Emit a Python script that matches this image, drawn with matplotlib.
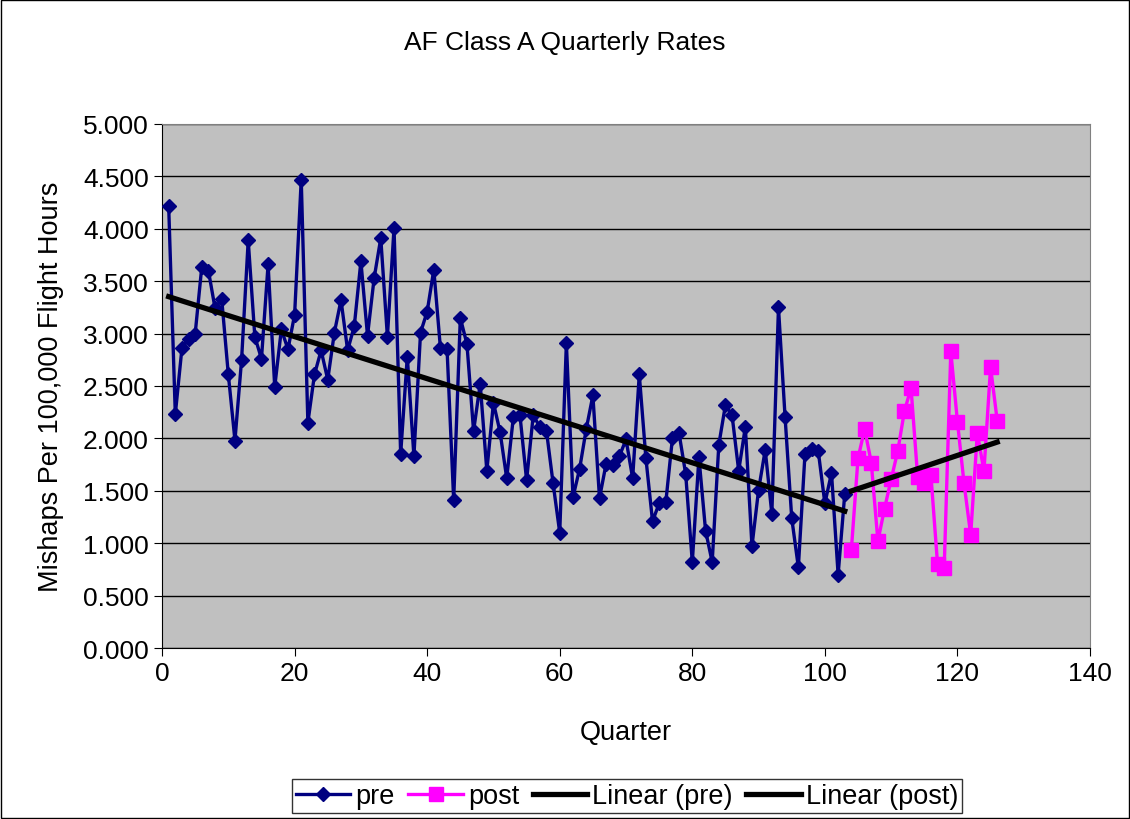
import numpy as np
import matplotlib
matplotlib.use('Agg')
import matplotlib.pyplot as plt
from matplotlib.patches import Rectangle

# data ---------------------------------------------------------
pre_q = list(range(1, 104))
pre_rate = [4.22, 2.23, 2.86, 2.95, 3.00, 3.64, 3.60, 3.24, 3.33, 2.61,
            1.98, 2.75, 3.89, 2.97, 2.76, 3.66, 2.49, 3.04, 2.85, 3.18,
            4.47, 2.15, 2.61, 2.84, 2.56, 3.01, 3.32, 2.84, 3.07, 3.69,
            2.98, 3.53, 3.91, 2.97, 4.01, 1.85, 2.78, 1.83, 3.01, 3.21,
            3.61, 2.86, 2.85, 1.41, 3.15, 2.90, 2.07, 2.52, 1.69, 2.34,
            2.06, 1.62, 2.20, 2.22, 1.60, 2.22, 2.11, 2.07, 1.57, 1.10,
            2.91, 1.44, 1.71, 2.09, 2.41, 1.43, 1.76, 1.75, 1.83, 1.99,
            1.62, 2.61, 1.81, 1.21, 1.38, 1.39, 2.00, 2.05, 1.66, 0.82,
            1.82, 1.12, 0.82, 1.94, 2.32, 2.22, 1.69, 2.11, 0.97, 1.51,
            1.89, 1.28, 3.25, 2.20, 1.24, 0.77, 1.85, 1.90, 1.88, 1.38,
            1.67, 0.70, 1.47]
post_q = list(range(104, 127))
post_rate = [0.94, 1.81, 2.09, 1.77, 1.02, 1.33, 1.61, 1.88, 2.26, 2.48,
             1.63, 1.57, 1.65, 0.80, 0.76, 2.83, 2.16, 1.57, 1.08, 2.05,
             1.69, 2.68, 2.17]

# linear trendlines (like excel)
p_pre = np.polyfit(pre_q, pre_rate, 1)
p_post = np.polyfit(post_q, post_rate, 1)

plt.rcParams['font.family'] = ['Liberation Sans', 'DejaVu Sans']

fig = plt.figure(figsize=(11.3, 8.2), dpi=100)
ax = fig.add_axes([0.1434, 0.2085, 0.8212, 0.6391])
ax.set_facecolor('#c0c0c0')

ax.plot(pre_q, pre_rate, color='#000080', marker='D', ms=7.5, lw=2.4, label='pre', zorder=3)
ax.plot(post_q, post_rate, color='#ff00ff', marker='s', ms=10, lw=2.4, label='post', zorder=3)
ax.plot([pre_q[0], pre_q[-1]], np.polyval(p_pre, [pre_q[0], pre_q[-1]]),
        color='black', lw=3.8, label='Linear (pre)', zorder=4)
ax.plot([post_q[0], post_q[-1]], np.polyval(p_post, [post_q[0], post_q[-1]]),
        color='black', lw=3.8, label='Linear (post)', zorder=4)

ax.set_xlim(0, 140)
ax.set_ylim(0, 5)
ax.set_xticks(range(0, 141, 20))
ax.set_yticks(np.arange(0, 5.01, 0.5))
ax.set_yticklabels(['%.3f' % v for v in np.arange(0, 5.01, 0.5)])
ax.yaxis.grid(True, color='black', lw=1)
ax.set_axisbelow(True)
ax.tick_params(labelsize=19, direction='out', length=6, color='black')
for s in ['top', 'right']:
    ax.spines[s].set_color('#808080')
for s in ['left', 'bottom']:
    ax.spines[s].set_color('black')

ax.set_xlabel('Quarter', fontsize=19.5, labelpad=24)
ax.set_ylabel('Mishaps Per 100,000 Flight Hours', fontsize=19.5, labelpad=14)
fig.text(0.5, 1 - 43 / 820, 'AF Class A Quarterly Rates', ha='center', va='center', fontsize=19)

leg = fig.legend(loc='center', bbox_to_anchor=(0.555, 0.028), ncol=4, fontsize=19.5,
                 frameon=True, fancybox=False, edgecolor='black', handlelength=2.0,
                 handletextpad=0.2, columnspacing=0.5, borderpad=0.15)
leg.get_frame().set_linewidth(1)

# outer border
fig.patches.append(Rectangle((0.001, 0.001), 0.998, 0.998, transform=fig.transFigure,
                             fill=False, edgecolor='black', lw=1))

fig.savefig('out.png', dpi=100)
print('done')
